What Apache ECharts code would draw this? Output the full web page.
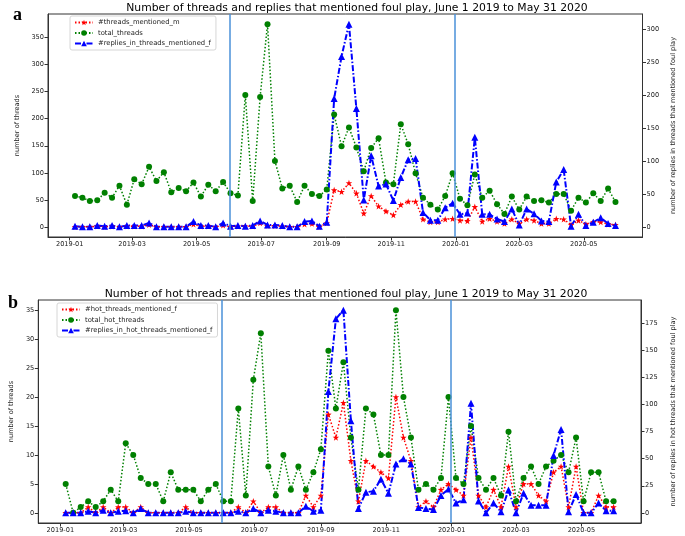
<!DOCTYPE html>
<html><head><meta charset="utf-8">
<script src="https://cdn.jsdelivr.net/npm/echarts@6/dist/echarts.min.js"></script>
<style>html,body{margin:0;padding:0;background:#fff}#c{width:685px;height:536px}</style>
</head><body><div id="c"></div>
<script>
const dates = ['2019-01-06','2019-01-13','2019-01-20','2019-01-27','2019-02-03','2019-02-10','2019-02-17','2019-02-24',
'2019-03-03','2019-03-10','2019-03-17','2019-03-24','2019-03-31','2019-04-07','2019-04-14','2019-04-21','2019-04-28',
'2019-05-05','2019-05-12','2019-05-19','2019-05-26','2019-06-02','2019-06-09','2019-06-16','2019-06-23','2019-06-30',
'2019-07-07','2019-07-14','2019-07-21','2019-07-28','2019-08-04','2019-08-11','2019-08-18','2019-08-25',
'2019-09-01','2019-09-08','2019-09-15','2019-09-22','2019-09-29','2019-10-06','2019-10-13','2019-10-20','2019-10-27',
'2019-11-03','2019-11-10','2019-11-17','2019-11-24','2019-12-01','2019-12-08','2019-12-15','2019-12-22','2019-12-29',
'2020-01-05','2020-01-12','2020-01-19','2020-01-26','2020-02-02','2020-02-09','2020-02-16','2020-02-23',
'2020-03-01','2020-03-08','2020-03-15','2020-03-22','2020-03-29','2020-04-05','2020-04-12','2020-04-19','2020-04-26',
'2020-05-03','2020-05-10','2020-05-17','2020-05-24','2020-05-31'];

// panel a
const threadsMentionedM = [0,0,0,1,0,1,0,1,1,1, 4,0,0,0,0,0,5,1,1,0, 3,0,1,1,1,7,2,2,1,0,
  0,5,6,0,7,68,65,81,62,25, 57,38,29,22,41,47,47,14,9,9, 14,15,12,11,37,10,15,10,6,14,
  6,14,12,6,6,15,14,4,12,5, 9,9,5,4];
const totalThreads = [57,54,48,49,63,54,76,41,88,79, 111,85,101,64,72,66,82,56,78,66,
  83,62,58,244,48,240,375,122,71,76, 46,76,61,57,69,208,149,184,147,103,
  146,164,82,79,190,153,99,54,41,32, 57,99,52,40,97,54,67,42,24,56,
  32,56,48,49,45,61,61,30,54,45, 62,48,71,46];
const repliesInThreads = [1,0,0,2,1,2,0,2,2,2, 6,0,0,0,0,0,8,2,2,0, 6,1,2,1,2,9,3,3,2,0,
  0,8,9,1,7,195,259,308,180,41, 108,62,65,40,75,102,104,22,10,10,
  29,36,19,21,136,19,19,12,8,27, 3,27,20,9,8,68,87,1,19,2, 7,14,5,2];

// panel b
const hotThreadsMentionedF = [0,0,0,1,0,1,0,1,1,0, 1,0,0,0,0,0,1,0,0,0, 0,0,0,1,0,2,0,1,1,0,
  0,0,3,1,3,17,13,19,9,2, 9,8,7,6,20,13,9,1,2,1, 4,5,4,3,13,3,1,4,1,8,
  1,5,5,3,2,7,8,1,8,0, 0,3,1,1];
const totalHotThreads = [5,0,1,2,1,2,4,2,12,10, 6,5,5,2,7,4,4,4,2,4, 5,2,2,18,3,23,31,8,3,10,
  4,8,4,7,11,28,18,26,13,4, 18,17,10,10,35,20,13,4,5,4, 6,20,6,5,15,6,4,6,3,14,
  2,6,8,5,8,9,10,7,13,2, 7,7,2,2];
const repliesInHotThreads = [0,0,0,1.5,0,2.5,0,1.5,2,0, 4,0,0,0,0,0,1.5,0,0,0, 0,0,0,1.5,0,4,0,2.5,1.5,0,
  0,0,6,1.5,2.5,112,179,187,85,4, 19,20,31,18,45,50,45,5,4,3,
  16,22,9,12,101,11,0,9,1,21, 0,18,7,7,7,53,77,1,17,0, 0,9,2,2];

const xTickLabels = ['2019-01','2019-03','2019-05','2019-07','2019-09','2019-11','2020-01','2020-03','2020-05'];
const yTicksA = [0,50,100,150,200,250,300,350];
const yTicksAR = [0,50,100,150,200,250,300];
const yTicksB = [0,5,10,15,20,25,30,35];
const yTicksBR = [0,25,50,75,100,125,150,175];
const vLines = ['2019-06-01','2019-12-31'];

function ts(s){const p=s.split('-');return new Date(+p[0],+p[1]-1,p[2]?+p[2]:1).getTime();}
const xs = dates.map(ts);
const xpad = (xs[xs.length-1]-xs[0])*0.05;
const xMin = xs[0]-xpad, xMax = xs[xs.length-1]+xpad;
function yRange(arrs){let mn=Infinity,mx=-Infinity;arrs.forEach(a=>a.forEach(v=>{mn=Math.min(mn,v);mx=Math.max(mx,v);}));const p=(mx-mn)*0.05;return [mn-p,mx+p];}
const rA = yRange([threadsMentionedM,totalThreads]);
const rAR = yRange([repliesInThreads]);
const rB = yRange([hotThreadsMentionedF,totalHotThreads]);
const rBR = yRange([repliesInHotThreads]);
const xTicks = xTickLabels.map(ts);
function fmtMonth(v){const d=new Date(v);return d.getFullYear()+'-'+String(d.getMonth()+1).padStart(2,'0');}

const FONT='DejaVu Sans';
const frame='#333';
const lbl={fontSize:6.6,color:'#222',fontFamily:FONT};

function xAxis(g){return {type:'value',gridIndex:g,min:xMin,max:xMax,splitLine:{show:false},
  axisLine:{show:true,onZero:false,lineStyle:{color:frame,width:1}},
  axisTick:{show:true,length:3.5,customValues:xTicks,lineStyle:{color:frame}},
  axisLabel:Object.assign({customValues:xTicks,formatter:fmtMonth,margin:4},lbl)};}
function yAxis(g,pos,range,ticks,name,gap){return {type:'value',gridIndex:g,position:pos,min:range[0],max:range[1],
  splitLine:{show:false},axisLine:{show:true,onZero:false,lineStyle:{color:frame,width:1}},
  axisTick:{show:true,length:3.5,customValues:ticks,lineStyle:{color:frame}},
  axisLabel:Object.assign({customValues:ticks,margin:4},lbl),
  name:name,nameLocation:'middle',nameRotate:90,nameGap:gap,nameTextStyle:Object.assign({},lbl)};}

const star='path://M0,-10L2.35,-3.24L9.51,-3.09L3.8,1.24L5.88,8.09L0,4L-5.88,8.09L-3.8,1.24L-9.51,-3.09L-2.35,-3.24Z';
function pairs(a){return a.map((v,i)=>[xs[i],v]);}
function ser(name,data,kind,xi,yi,extra){
  let s;
  if(kind==='r') s={symbol:star,symbolSize:6.5,color:'#ff0000',lineStyle:{type:[1.5,2],width:1.5}};
  else if(kind==='g') s={symbol:'circle',symbolSize:6,color:'#008000',lineStyle:{type:[1.5,2],width:1.5}};
  else s={symbol:'triangle',symbolSize:7,color:'#0000ff',lineStyle:{type:[6,2,1.5,2],width:2}};
  return Object.assign({type:'line',name:name,data:pairs(data),xAxisIndex:xi,yAxisIndex:yi,
    symbol:s.symbol,symbolSize:s.symbolSize,showSymbol:true,
    itemStyle:{color:s.color,borderWidth:0},lineStyle:Object.assign({color:s.color},s.lineStyle)},extra||{});
}
const mline={silent:true,symbol:['none','none'],label:{show:false},lineStyle:{color:'#4a90d9',width:1.5,type:'solid'},
  data:vLines.map(v=>({xAxis:ts(v)}))};

const legBase={orient:'vertical',itemWidth:18,itemHeight:7,itemGap:3.5,padding:[3,5,3,4],backgroundColor:'#fff',
  borderColor:'#cccccc',borderWidth:0.8,borderRadius:2,textStyle:Object.assign({},lbl,{fontSize:6.8})};

const option={
  animation:false,
  backgroundColor:'#fff',
  title:[
    {text:'Number of threads and replies that mentioned foul play, June 1 2019 to May 31 2020',left:352,top:-2,textAlign:'center',
      textStyle:{fontSize:10.8,fontWeight:'normal',color:'#000',fontFamily:FONT}},
    {text:'Number of hot threads and replies that mentioned foul play, June 1 2019 to May 31 2020',left:341,top:284,textAlign:'center',
      textStyle:{fontSize:10.8,fontWeight:'normal',color:'#000',fontFamily:FONT}},
    {text:'a',left:8,top:1,textStyle:{fontSize:18,fontWeight:'bold',color:'#000',fontFamily:'Liberation Serif'}},
    {text:'b',left:3,top:289,textStyle:{fontSize:18,fontWeight:'bold',color:'#000',fontFamily:'Liberation Serif'}}
  ],
  grid:[
    {left:48,right:30,top:14,height:223,show:true,borderColor:frame,borderWidth:1,backgroundColor:'transparent'},
    {left:36,right:39,top:300,height:223,show:true,borderColor:frame,borderWidth:1,backgroundColor:'transparent'}
  ],
  legend:[
    Object.assign({},legBase,{left:70,top:16,data:['#threads_mentioned_m','total_threads','#replies_in_threads_mentioned_f']}),
    Object.assign({},legBase,{left:57,top:303,data:['#hot_threads_mentioned_f','total_hot_threads','#replies_in_hot_threads_mentioned_f']})
  ],
  xAxis:[xAxis(0),xAxis(1)],
  yAxis:[
    yAxis(0,'left',rA,yTicksA,'number of threads',26),
    yAxis(0,'right',rAR,yTicksAR,'number of replies in threads that mentioned foul play',24),
    yAxis(1,'left',rB,yTicksB,'number of threads',22),
    yAxis(1,'right',rBR,yTicksBR,'number of replies in hot threads that mentioned foul play',29)
  ],
  series:[
    ser('#threads_mentioned_m',threadsMentionedM,'r',0,0),
    ser('total_threads',totalThreads,'g',0,0,{markLine:mline}),
    ser('#replies_in_threads_mentioned_f',repliesInThreads,'b',0,1),
    ser('#hot_threads_mentioned_f',hotThreadsMentionedF,'r',1,2),
    ser('total_hot_threads',totalHotThreads,'g',1,2,{markLine:mline}),
    ser('#replies_in_hot_threads_mentioned_f',repliesInHotThreads,'b',1,3)
  ]
};
const chart=echarts.init(document.getElementById('c'),null,{renderer:'canvas'});
chart.setOption(option);
</script></body></html>
